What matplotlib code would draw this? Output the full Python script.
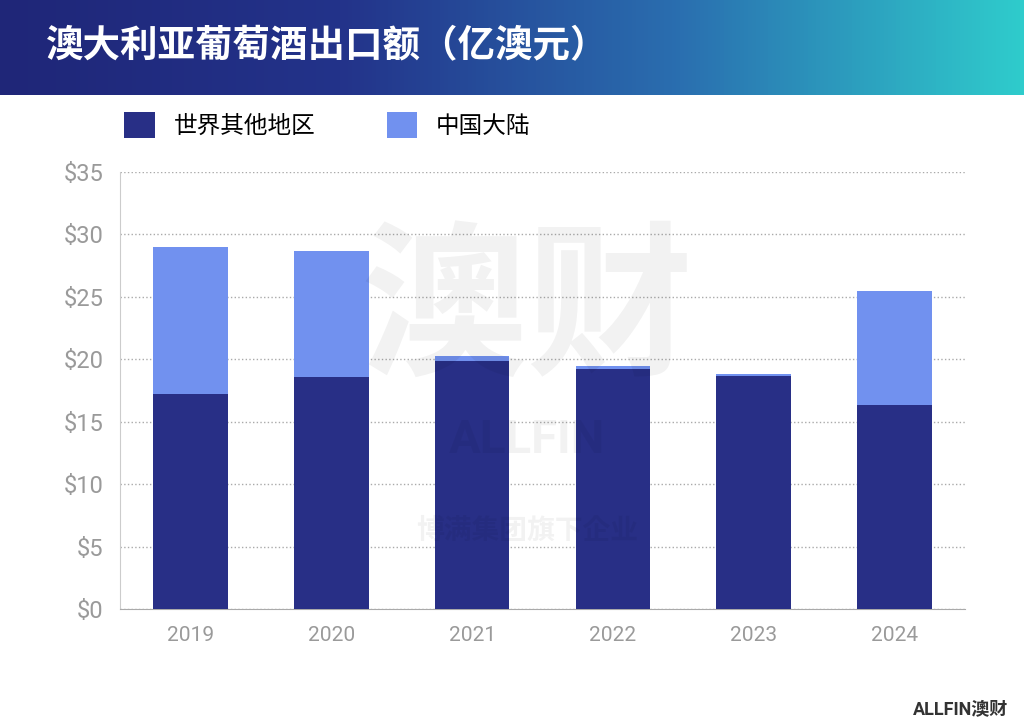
import numpy as np
import matplotlib.pyplot as plt
from matplotlib import font_manager
from matplotlib.colors import LinearSegmentedColormap

# 找一个可用的中文无衬线字体
cjk = sorted({f.name for f in font_manager.fontManager.ttflist if 'CJK' in f.name and 'Sans' in f.name})
cjk_name = 'Noto Sans CJK SC' if 'Noto Sans CJK SC' in cjk else (cjk[0] if cjk else 'DejaVu Sans')
plt.rcParams['font.family'] = ['Roboto', cjk_name, 'DejaVu Sans']

years = ['2019', '2020', '2021', '2022', '2023', '2024']
rest_of_world = [17.2, 18.6, 19.9, 19.2, 18.65, 16.3]
china = [11.8, 10.1, 0.35, 0.25, 0.2, 9.2]
y_ticks = [0, 5, 10, 15, 20, 25, 30, 35]

fig = plt.figure(figsize=(10.24, 7.27), dpi=100)

# 标题渐变条
bar_ax = fig.add_axes([0, 1 - 95 / 727, 1, 95 / 727])
grad = np.linspace(0, 1, 256).reshape(1, -1)
cmap = LinearSegmentedColormap.from_list('t', ['#1f2678', '#23338a', '#2a6fb0', '#2fcccc'])
bar_ax.imshow(grad, aspect='auto', cmap=cmap, extent=[0, 1, 0, 1])
bar_ax.axis('off')
bar_ax.text(0.045, 0.52, '澳大利亚葡萄酒出口额（亿澳元）', color='white', fontsize=27,
            fontweight='bold', va='center', ha='left', transform=bar_ax.transAxes,
            family=[cjk_name])

ax = fig.add_axes([120 / 1024, 1 - 609 / 727, 845 / 1024, 437 / 727])
x = np.arange(len(years))
ax.bar(x, rest_of_world, width=0.53, color='#282f86', label='世界其他地区', zorder=3)
ax.bar(x, china, width=0.53, bottom=rest_of_world, color='#7191ef', label='中国大陆', zorder=3)

ax.set_ylim(0, 35)
ax.set_xlim(-0.5, len(years) - 0.5)
ax.set_yticks(y_ticks)
ax.set_yticklabels([f'${v}' for v in y_ticks], fontsize=17, color='#9a9a9a')
ax.set_xticks(x)
ax.set_xticklabels(years, fontsize=15, color='#9a9a9a')
ax.tick_params(length=0, pad=12)
ax.yaxis.grid(True, linestyle=':', color='#aaaaaa', linewidth=1, zorder=0)
for s in ['top', 'right']:
    ax.spines[s].set_visible(False)
ax.spines['left'].set_color('#cccccc')
ax.spines['bottom'].set_color('#aaaaaa')

# 水印
fig.text(0.515, 0.57, '澳财', fontsize=120, color='#000000', alpha=0.05,
         ha='center', va='center', fontweight='bold', family=[cjk_name])
fig.text(0.515, 0.395, 'ALLFIN', fontsize=34, color='#000000', alpha=0.05,
         ha='center', va='center', fontweight='bold')
fig.text(0.515, 0.27, '博满集团旗下企业', fontsize=20, color='#000000', alpha=0.05,
         ha='center', va='center', fontweight='bold', family=[cjk_name])

leg = ax.legend(loc='lower left', bbox_to_anchor=(-0.02, 1.03), ncol=2, frameon=False,
                handlelength=1.3, handleheight=1.3, columnspacing=3,
                prop={'family': cjk_name, 'size': 17})

fig.text(0.985, 0.012, 'ALLFIN澳财', fontsize=13, color='#333333', ha='right',
         va='bottom', fontweight='bold')

fig.savefig('out.png', dpi=100)
